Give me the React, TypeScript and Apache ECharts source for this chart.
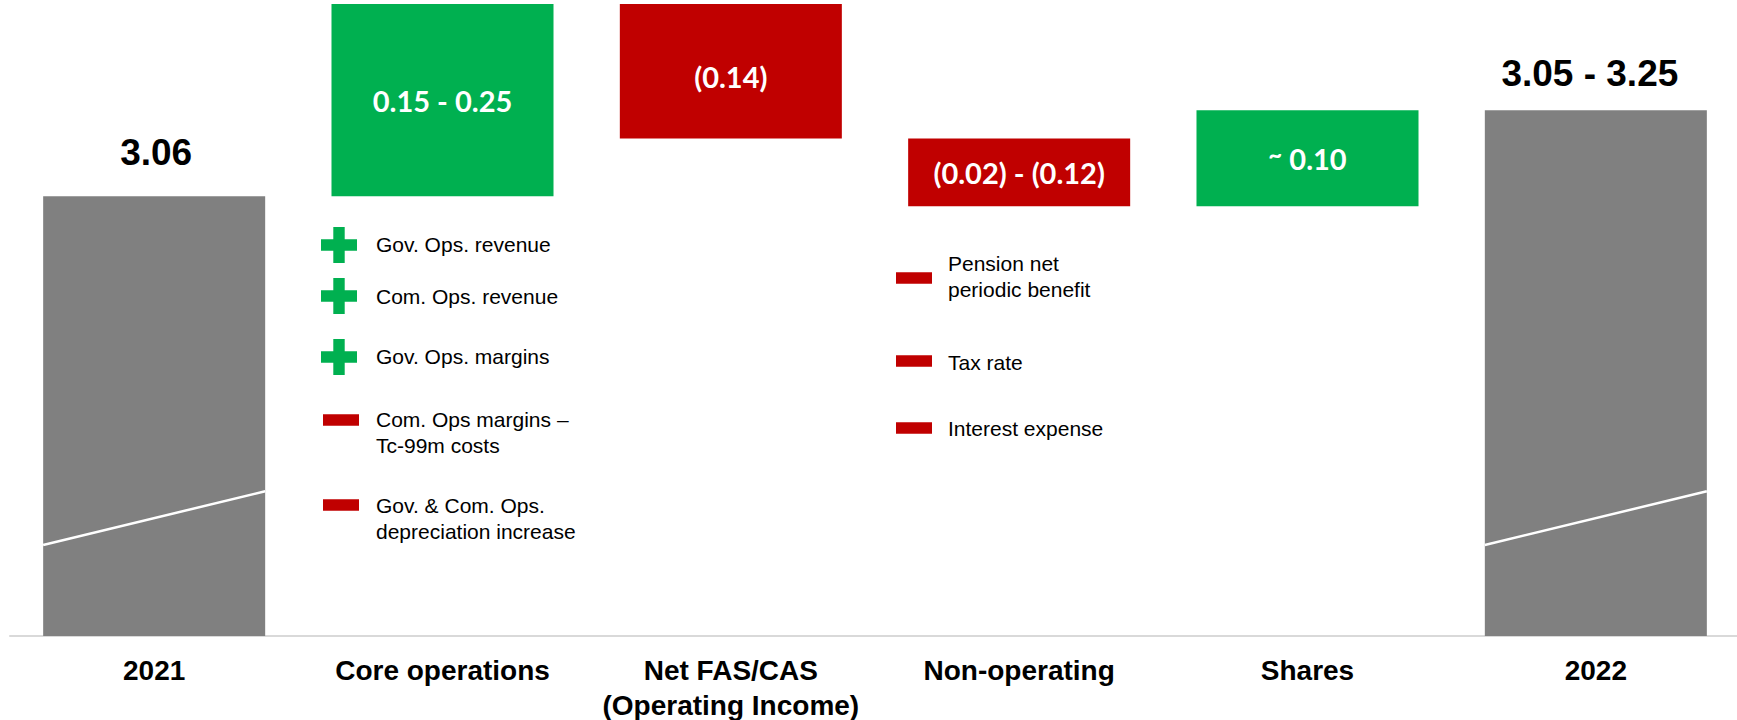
import React, { useEffect, useRef } from "react";
import * as echarts from "echarts";

// ---------- data ----------
const categories = [
  "2021",
  "Core operations",
  "Net FAS/CAS\n(Operating Income)",
  "Non-operating",
  "Shares",
  "2022",
];
const valueLabels = ["3.06", "0.15 - 0.25", "(0.14)", "(0.02) - (0.12)", "{t|~} 0.10", "3.05 - 3.25"];
const barKinds = ["total", "increase", "decrease", "decrease", "increase", "total"];
// illustrative (not-to-scale) bridge levels, 0–100
const barBase = [0, 69.6, 78.7, 68.0, 68.0, 0];
const barTop = [69.6, 100, 100, 78.7, 83.2, 83.2];
// axis-break slash drawn across the total bars: [category index, level at left edge, level at right edge]
const breakCategories = [0, 5];
const breakLeft = [14.4, 14.4];
const breakRight = [22.9, 22.9];

const coreDrivers = [
  "Gov. Ops. revenue",
  "Com. Ops. revenue",
  "Gov. Ops. margins",
  "Com. Ops margins –\nTc-99m costs",
  "Gov. & Com. Ops.\ndepreciation increase",
];
const coreSigns = ["+", "+", "+", "-", "-"];
const nonOpDrivers = ["Pension net\nperiodic benefit", "Tax rate", "Interest expense"];
const nonOpSigns = ["-", "-", "-"];

// ---------- layout / style ----------
const GREEN = "#00B050";
const RED = "#C00000";
const GRAY = "#808080";
const ARIAL = '"Liberation Sans", Arial, sans-serif';
const CALIBRI = 'Lato, "Open Sans", sans-serif';

const coreTextX = 376;
const coreIconX = 339;
const coreTextY = [244, 296, 356, 419, 505];
const coreIconY = [245, 296, 357, 420, 505];
const nonOpTextX = 948;
const nonOpIconX = 914;
const nonOpTextY = [263, 362, 428];
const nonOpIconY = [278, 361, 428];

function plusIcon(cx: number, cy: number, color: string) {
  const h = 18;
  const t = 5.7;
  return {
    type: "polygon",
    silent: true,
    shape: {
      points: [
        [cx - t, cy - h], [cx + t, cy - h], [cx + t, cy - t], [cx + h, cy - t],
        [cx + h, cy + t], [cx + t, cy + t], [cx + t, cy + h], [cx - t, cy + h],
        [cx - t, cy + t], [cx - h, cy + t], [cx - h, cy - t], [cx - t, cy - t],
      ],
    },
    style: { fill: color },
  };
}
function minusIcon(cx: number, cy: number, color: string) {
  return {
    type: "rect",
    silent: true,
    shape: { x: cx - 18, y: cy - 5.7, width: 36, height: 11.4 },
    style: { fill: color },
  };
}
function driverText(text: string, x: number, firstLineCy: number) {
  return {
    type: "text",
    silent: true,
    x,
    y: firstLineCy - 13,
    style: {
      text,
      fill: "#000",
      fontSize: 21,
      fontFamily: ARIAL,
      lineHeight: 26,
      align: "left",
      verticalAlign: "top",
    },
  };
}

export default function App() {
  const ref = useRef<HTMLDivElement>(null);

  useEffect(() => {
    document.body.style.margin = "0";
    if (!ref.current) return;
    const chart = echarts.init(ref.current, undefined, { renderer: "svg" });

    const deltaData = barTop.map((top, i) => {
      const kind = barKinds[i];
      const isTotal = kind === "total";
      const color = isTotal ? GRAY : kind === "increase" ? GREEN : RED;
      return {
        value: +(top - barBase[i]).toFixed(2),
        itemStyle: { color },
        label: isTotal
          ? {
              show: true,
              position: "top",
              distance: i === 0 ? 25 : 18,
              offset: i === 0 ? [2, 0] : [-6, 0],
              formatter: valueLabels[i],
              color: "#000",
              fontFamily: ARIAL,
              fontWeight: "bold",
              fontSize: 37,
              lineHeight: 37,
            }
          : {
              show: true,
              position: "inside",
              offset: i === 2 ? [0, 5] : [0, 0],
              formatter: valueLabels[i],
              color: "#fff",
              fontFamily: CALIBRI,
              fontWeight: "bold",
              fontSize: 29,
              rich: {
                t: {
                  color: "#fff",
                  fontFamily: CALIBRI,
                  fontWeight: "bold",
                  fontSize: 24,
                  padding: [0, 0, 8, 0],
                },
              },
            },
      };
    });

    const graphics: any[] = [];
    coreDrivers.forEach((t, i) => {
      graphics.push(
        coreSigns[i] === "+"
          ? plusIcon(coreIconX, coreIconY[i], GREEN)
          : minusIcon(coreIconX + 2, coreIconY[i], RED)
      );
      graphics.push(driverText(t, coreTextX, coreTextY[i]));
    });
    nonOpDrivers.forEach((t, i) => {
      graphics.push(
        nonOpSigns[i] === "+"
          ? plusIcon(nonOpIconX, nonOpIconY[i], GREEN)
          : minusIcon(nonOpIconX, nonOpIconY[i], RED)
      );
      graphics.push(driverText(t, nonOpTextX, nonOpTextY[i]));
    });

    chart.setOption({
      animation: false,
      grid: {
        left: 10,
        top: 4,
        width: 1730,
        height: 632,
        containLabel: false,
        outerBoundsMode: "none",
      },
      xAxis: {
        type: "category",
        data: categories,
        offset: 1,
        axisLine: { show: true, lineStyle: { color: "#d9d9d9", width: 2 } },
        axisTick: { show: false },
        axisLabel: {
          interval: 0,
          margin: 16,
          color: "#000",
          fontFamily: ARIAL,
          fontWeight: "bold",
          fontSize: 28,
          lineHeight: 35,
        },
        z: 1,
      },
      yAxis: { type: "value", min: 0, max: 100, show: false, splitLine: { show: false } },
      series: [
        {
          name: "base",
          type: "bar",
          stack: "bridge",
          barWidth: "77%",
          silent: true,
          itemStyle: { color: "transparent" },
          data: barBase,
          z: 2,
        },
        {
          name: "change",
          type: "bar",
          stack: "bridge",
          barWidth: "77%",
          data: deltaData,
          z: 3,
        },
        {
          name: "break",
          type: "custom",
          z: 5,
          silent: true,
          encode: { x: 0, y: [1, 2] },
          data: breakCategories.map((c, i) => [c, breakLeft[i], breakRight[i]]),
          renderItem: (_params: any, api: any) => {
            const idx = api.value(0);
            const l = api.coord([idx, api.value(1)]);
            const r = api.coord([idx, api.value(2)]);
            const w = api.size([1, 0])[0] * 0.77;
            return {
              type: "line",
              shape: { x1: l[0] - w / 2, y1: l[1], x2: r[0] + w / 2, y2: r[1] },
              style: { stroke: "#fff", lineWidth: 2.5 },
            };
          },
        },
      ],
      graphic: graphics,
    });

    return () => chart.dispose();
  }, []);

  return (
    <div
      ref={ref}
      style={{ width: 1737, height: 720, position: "absolute", left: 0, top: 0 }}
    />
  );
}
